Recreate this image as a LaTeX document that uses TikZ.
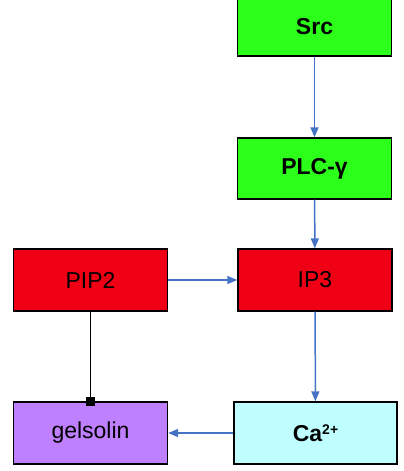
\documentclass[tikz,border=0pt]{standalone}
\usepackage{fontspec}
\setmainfont{Liberation Sans}
\usetikzlibrary{arrows.meta,positioning}
\definecolor{srcgreen}{HTML}{2BFF1A}
\definecolor{ipred}{HTML}{F00014}
\definecolor{gelpurple}{HTML}{BF80FF}
\definecolor{cacyan}{HTML}{C0FFFF}
\definecolor{arrblue}{HTML}{4472C4}

\begin{document}
\begin{tikzpicture}[x=1pt, y=-1pt,
    box/.style={draw=black, line width=1.4pt, minimum width=154pt, minimum height=62pt,
                inner sep=0pt, font=\fontsize{23}{26}\selectfont},
    arr/.style={-{Triangle[length=10pt, width=8pt]}, line width=1.5pt, color=arrblue},
    inh/.style={-{Square[length=9pt, width=9pt]}, line width=1.9pt, color=black, shorten >=-4.5pt}
]
  \useasboundingbox (0,0) rectangle (404,471);
  % Pathway boxes
  \node[box, fill=srcgreen, minimum height=58pt] (src) at (314.5,27) {\textbf{Src}};
  \node[box, fill=srcgreen, minimum height=61pt] (plc) at (314.5,168.5) {\textbf{PLC-γ}};
  \node[box, fill=ipred] (ip3) at (315,280) {IP3};
  \node[box, fill=ipred] (pip2) at (90.5,280) {PIP2};
  \node[box, fill=gelpurple] (gel) at (90.5,433) {gelsolin};
  \node[box, fill=cacyan, minimum width=163pt] (ca) at (315.5,433)
    {\textbf{Ca\raisebox{0.55ex}{\fontsize{14}{16}\selectfont 2+}}};

  % Connections
  \draw[arr] (src) -- (plc);
  \draw[arr] (plc) -- (ip3);
  \draw[arr] (pip2) -- (ip3);
  \draw[arr] (ip3) -- (ca);
  \draw[arr] (ca) -- (gel);
  \draw[inh] (pip2) -- (gel);
\end{tikzpicture}
\end{document}
